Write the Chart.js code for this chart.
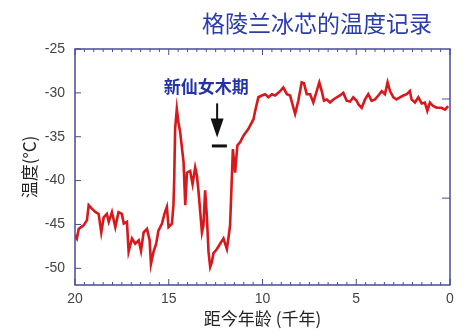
<!DOCTYPE html>
<html>
<head>
<meta charset="utf-8">
<script src="https://cdn.jsdelivr.net/npm/chart.js@4"></script>
<style>
  html, body { margin: 0; padding: 0; background: #fff; }
  #wrap { width: 470px; height: 336px; }
</style>
</head>
<body>
<div id="wrap"><canvas id="iceChart"></canvas></div>
<script>
// age before present (thousand years) and temperature (°C)
const ages = [20.0, 19.9, 19.8, 19.54, 19.36, 19.27, 19.1, 18.9, 18.74, 18.6, 18.47, 18.3, 18.2, 18.03, 17.85, 17.68, 17.5, 17.4, 17.23, 17.14,
  16.96, 16.79, 16.6, 16.48, 16.34, 16.16, 16.02, 15.95, 15.81, 15.67, 15.55, 15.36, 15.23, 15.1, 15.01, 14.83, 14.75, 14.71, 14.66, 14.57,
  14.48, 14.39, 14.21, 14.12, 14.03, 13.86, 13.73, 13.59, 13.5, 13.41, 13.32, 13.23, 13.15, 13.06, 12.97, 12.88, 12.79, 12.7, 12.62, 12.43,
  12.26, 12.08, 11.9, 11.82, 11.73, 11.67, 11.58, 11.46, 11.34, 11.19, 11.02, 10.75, 10.48, 10.39, 10.22, 10.04, 9.86, 9.69, 9.5, 9.33,
  9.06, 8.89, 8.7, 8.53, 8.35, 8.26, 8.09, 7.91, 7.79, 7.64, 7.46, 7.29, 7.11, 6.97, 6.84, 6.72, 6.57, 6.4, 6.22, 6.04,
  5.87, 5.69, 5.51, 5.33, 5.16, 4.98, 4.89, 4.71, 4.53, 4.36, 4.18, 4.0, 3.82, 3.64, 3.47, 3.33, 3.2, 3.02, 2.85, 2.67,
  2.49, 2.31, 2.14, 2.05, 1.87, 1.69, 1.51, 1.34, 1.21, 1.07, 0.9, 0.71, 0.45, 0.27, 0.1];
const temps = [-46.2, -46.6, -45.5, -45.1, -44.5, -42.8, -43.2, -43.6, -43.8, -45.9, -44.2, -43.8, -44.7, -43.6, -45.3, -43.6, -43.8, -44.9, -44.7, -48.1,
  -46.6, -47.2, -46.8, -48.0, -45.9, -45.5, -46.8, -49.5, -48.1, -47.2, -45.7, -44.9, -43.8, -43.0, -45.3, -44.9, -42.8, -40.0, -34.1, -31.85,
  -33.4, -34.5, -37.9, -42.8, -39.1, -38.9, -40.4, -38.5, -39.4, -41.3, -43.6, -45.9, -45.1, -41.1, -44.0, -48.1, -49.85, -49.3, -48.3, -47.8,
  -47.2, -46.6, -47.8, -46.6, -45.1, -41.7, -36.4, -39.1, -36.0, -35.6, -34.9, -34.1, -33.0, -32.05, -30.5, -30.3, -30.15, -30.5, -30.15, -30.3,
  -29.8, -29.4, -30.15, -30.3, -31.7, -32.4, -30.9, -28.8, -28.9, -30.15, -30.15, -31.1, -29.8, -28.8, -29.8, -30.9, -30.75, -31.1, -30.75, -30.5,
  -30.3, -30.0, -30.9, -31.0, -30.5, -30.9, -31.3, -31.7, -30.75, -30.15, -30.9, -30.75, -30.3, -29.8, -30.15, -28.8, -29.8, -30.5, -30.75, -30.5,
  -30.3, -30.15, -29.8, -30.75, -31.1, -30.5, -31.2, -31.1, -32.05, -31.1, -31.5, -31.7, -31.7, -31.9, -31.5];

const xTicks = [20, 15, 10, 5, 0];
const yTicks = [-50, -45, -40, -35, -30, -25];
const rightTicks = [-30.7, -42.0];

const chartTitle = '格陵兰冰芯的温度记录';
const xTitle = '距今年龄 (千年)';
const yTitle = '温度(°C)';
const ydText = '新仙女木期';

const axisColor = '#4a4a9c';
const cjk = '"Noto Sans CJK SC", "Noto Sans", sans-serif';
const latin = '"Liberation Sans", Arial, sans-serif';

// frame with inward ticks, drawn under the line
const framePlugin = {
  id: 'frame',
  beforeDatasetsDraw(chart) {
    const { ctx, chartArea: a, scales: { x, y } } = chart;
    ctx.save();
    ctx.strokeStyle = axisColor;
    ctx.lineWidth = 1.5;
    ctx.strokeRect(a.left, a.top, a.right - a.left, a.bottom - a.top);
    ctx.lineWidth = 1;
    ctx.beginPath();
    for (let v = 0; v <= 20; v += 0.5) {
      const px = x.getPixelForValue(v);
      const len = v % 5 === 0 ? 6 : 3;
      ctx.moveTo(px, a.bottom); ctx.lineTo(px, a.bottom - len);
      ctx.moveTo(px, a.top); ctx.lineTo(px, a.top + len);
    }
    yTicks.forEach(v => {
      const py = y.getPixelForValue(v);
      ctx.moveTo(a.left, py); ctx.lineTo(a.left + 6, py);
    });
    rightTicks.forEach(v => {
      const py = y.getPixelForValue(v);
      ctx.moveTo(a.right, py); ctx.lineTo(a.right - 8, py);
    });
    ctx.stroke();
    ctx.restore();
  }
};

// title and Younger Dryas note
const notePlugin = {
  id: 'notes',
  afterDraw(chart) {
    const { ctx, scales: { x, y } } = chart;
    ctx.save();
    ctx.textAlign = 'center';
    ctx.textBaseline = 'middle';
    ctx.fillStyle = '#2a3cb0';
    ctx.font = '23px ' + cjk;
    ctx.fillText(chartTitle, 317, 23);

    ctx.fillStyle = '#2233a8';
    ctx.font = 'bold 17px ' + cjk;
    ctx.fillText(ydText, x.getPixelForValue(13.0), y.getPixelForValue(-29.3));

    const ax = x.getPixelForValue(12.42);
    const top = y.getPixelForValue(-31.2);
    const tip = y.getPixelForValue(-35.1);
    ctx.strokeStyle = '#111';
    ctx.fillStyle = '#111';
    ctx.lineWidth = 2;
    ctx.beginPath();
    ctx.moveTo(ax, top); ctx.lineTo(ax, tip - 12);
    ctx.stroke();
    ctx.beginPath();
    ctx.moveTo(ax - 6.5, tip - 19); ctx.lineTo(ax + 6.5, tip - 19); ctx.lineTo(ax, tip);
    ctx.closePath();
    ctx.fill();
    ctx.lineWidth = 3;
    ctx.beginPath();
    const dy = y.getPixelForValue(-36.05);
    ctx.moveTo(x.getPixelForValue(12.7), dy); ctx.lineTo(x.getPixelForValue(11.9), dy);
    ctx.stroke();
    ctx.restore();
  }
};

new Chart(document.getElementById('iceChart'), {
  type: 'line',
  data: {
    datasets: [{
      data: ages.map((a, i) => ({ x: a, y: temps[i] })),
      borderColor: '#d8181b',
      borderWidth: 2.6,
      pointRadius: 0,
      tension: 0,
      fill: false
    }]
  },
  options: {
    responsive: true,
    maintainAspectRatio: false,
    animation: false,
    devicePixelRatio: 1,
    layout: { padding: { top: 49, right: 20, left: 0, bottom: 0 } },
    plugins: {
      legend: { display: false },
      tooltip: { enabled: false }
    },
    scales: {
      x: {
        type: 'linear',
        min: 0,
        max: 20,
        reverse: true,
        afterBuildTicks: s => { s.ticks = xTicks.map(v => ({ value: v })); },
        afterFit: s => { s.height = 51; },
        grid: { display: false, drawTicks: false },
        border: { display: false },
        ticks: {
          color: '#444',
          padding: 6,
          maxRotation: 0,
          font: { family: latin, size: 14 }
        },
        title: {
          display: true,
          text: xTitle,
          color: '#222',
          padding: { top: 0, bottom: 7 },
          font: { family: cjk, size: 17 }
        }
      },
      y: {
        min: -51.9,
        max: -25,
        afterBuildTicks: s => { s.ticks = yTicks.map(v => ({ value: v })); },
        afterFit: s => { s.width = 75; },
        grid: { display: false, drawTicks: false },
        border: { display: false },
        ticks: {
          color: '#444',
          padding: 10,
          font: { family: latin, size: 14 }
        },
        title: {
          display: true,
          text: yTitle,
          color: '#222',
          padding: { top: 19, bottom: 0 },
          font: { family: cjk, size: 17 }
        }
      }
    }
  },
  plugins: [framePlugin, notePlugin]
});
</script>
</body>
</html>
